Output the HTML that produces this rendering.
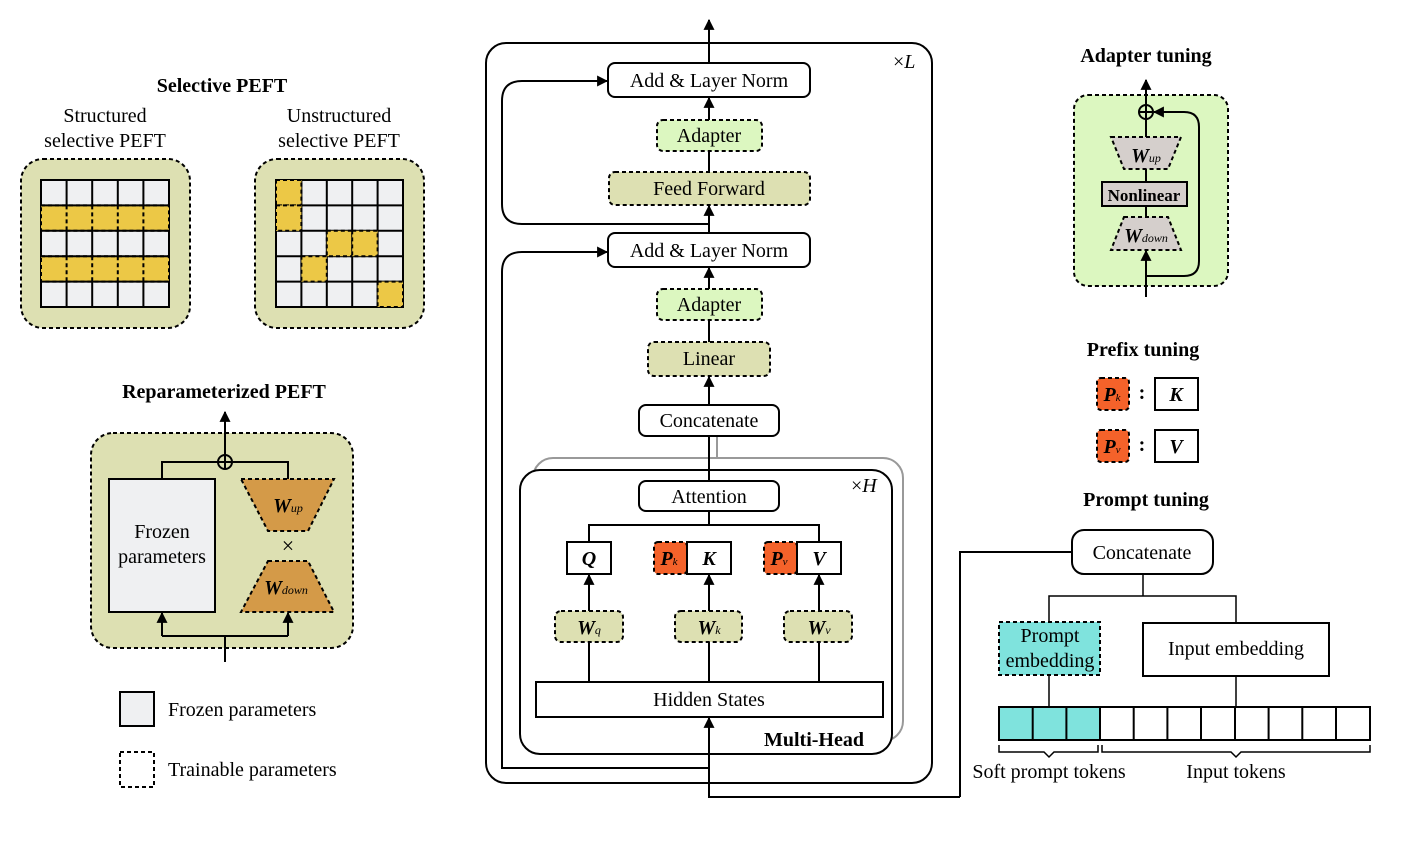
<!DOCTYPE html>
<html><head><meta charset="utf-8"><style>body{margin:0;background:#fff}svg{display:block}</style></head><body>
<svg width="1411" height="851" viewBox="0 0 1411 851" xmlns="http://www.w3.org/2000/svg" font-family="Liberation Serif, serif" font-size="20">
<defs><marker id="a" viewBox="0 0 10 10" refX="9" refY="5" markerWidth="11" markerHeight="11" orient="auto" markerUnits="userSpaceOnUse"><path d="M0,0L10,5L0,10z" fill="#000"/></marker>
<marker id="b" viewBox="0 0 10 10" refX="9" refY="5" markerWidth="11" markerHeight="11" orient="auto" markerUnits="userSpaceOnUse"><path d="M0,0L10,5L0,10z" fill="#000"/></marker></defs>
<g fill="none" stroke="#000" stroke-width="2">
<rect x="21" y="159" width="169" height="169" rx="22" fill="#dde0b2" stroke-dasharray="4,3"/>
<rect x="255" y="159" width="169" height="169" rx="22" fill="#dde0b2" stroke-dasharray="4,3"/>
</g>
<g stroke="#000" stroke-width="2">
<rect x="41" y="180" width="128" height="127" fill="#eff0f2"/>
<rect x="41" y="205.4" width="128" height="25.4" fill="#ecc846" stroke-dasharray="4,3"/>
<rect x="41" y="256.2" width="128" height="25.4" fill="#ecc846" stroke-dasharray="4,3"/>
<path d="M66.6 180V205.4M92.2 180V205.4M117.8 180V205.4M143.4 180V205.4M66.6 230.8V256.2M92.2 230.8V256.2M117.8 230.8V256.2M143.4 230.8V256.2M66.6 281.6V307M92.2 281.6V307M117.8 281.6V307M143.4 281.6V307"/>
<path d="M66.6 205.4V230.8M92.2 205.4V230.8M117.8 205.4V230.8M143.4 205.4V230.8M66.6 256.2V281.6M92.2 256.2V281.6M117.8 256.2V281.6M143.4 256.2V281.6" stroke-dasharray="4,3"/>
<path d="M41 205.4H169M41 230.8H169M41 256.2H169M41 281.6H169"/>
</g>
<g stroke="#000" stroke-width="2">
<rect x="276" y="180" width="127" height="127" fill="#eff0f2"/>
<path d="M301.4 180V307M326.8 180V307M352.2 180V307M377.6 180V307M276 205.4H403M276 230.8H403M276 256.2H403M276 281.6H403"/>
<g fill="#ecc846" stroke-dasharray="4,3">
<rect x="276" y="180" width="25.4" height="25.4"/><rect x="276" y="205.4" width="25.4" height="25.4"/>
<rect x="326.8" y="230.8" width="25.4" height="25.4"/><rect x="352.2" y="230.8" width="25.4" height="25.4"/>
<rect x="301.4" y="256.2" width="25.4" height="25.4"/><rect x="377.6" y="281.6" width="25.4" height="25.4"/>
</g></g>
<g font-weight="bold" font-size="20" text-anchor="middle">
<text x="222" y="92">Selective PEFT</text>
<text x="224" y="398">Reparameterized PEFT</text>
<text x="1146" y="62">Adapter tuning</text>
<text x="1143" y="356">Prefix tuning</text>
<text x="1146" y="506">Prompt tuning</text>
</g>
<g text-anchor="middle">
<text x="105" y="122">Structured</text><text x="105" y="147">selective PEFT</text>
<text x="339" y="122">Unstructured</text><text x="339" y="147">selective PEFT</text>
</g>
<g stroke="#000" stroke-width="2" fill="none">
<rect x="91" y="433" width="262" height="215" rx="22" fill="#dde0b2" stroke-dasharray="4,3"/>
<rect x="109" y="479" width="106" height="133" fill="#eff0f2"/>
<path d="M241 479H334L308 531H268Z" fill="#d49a48" stroke-dasharray="4,3"/>
<path d="M268 561H308L334 612H241Z" fill="#d49a48" stroke-dasharray="4,3"/>
<path d="M162 479V462H218M232 462H288V479"/>
<circle cx="225" cy="462" r="7"/><path d="M218 462H232M225 455V469"/>
<path d="M225 455V412" marker-end="url(#b)"/>
<path d="M225 662V636M162 636H288"/>
<path d="M162 636V613" marker-end="url(#b)"/><path d="M288 636V613" marker-end="url(#b)"/>
<rect x="120" y="692" width="34" height="34" fill="#eff0f2"/>
<rect x="120" y="752" width="34" height="35" stroke-dasharray="4,3"/>
</g>
<text x="162" y="538" text-anchor="middle">Frozen</text><text x="162" y="563" text-anchor="middle">parameters</text>
<text x="288" y="512" text-anchor="middle" font-weight="bold" font-style="italic">W<tspan font-size="12" font-weight="normal">up</tspan></text>
<text x="288" y="553" text-anchor="middle" font-size="22">×</text>
<text x="286" y="594" text-anchor="middle" font-weight="bold" font-style="italic">W<tspan font-size="12" font-weight="normal">down</tspan></text>
<text x="168" y="716">Frozen parameters</text>
<text x="168" y="776">Trainable parameters</text>
<g stroke="#000" stroke-width="2" fill="none">
<rect x="486" y="43" width="446" height="740" rx="20"/>
<rect x="533" y="458" width="370" height="283" rx="20" stroke="#999"/>
<path d="M717 436V458" stroke="#999"/>
<rect x="520" y="470" width="372" height="284" rx="20" fill="#fff"/>
<path d="M709 224H522Q502 224 502 204V101Q502 81 522 81H607" marker-end="url(#a)"/>
<path d="M709 768H502V272Q502 252 522 252H607" marker-end="url(#a)"/>
<path d="M709 63V20" marker-end="url(#b)"/>
<path d="M709 151V98" marker-end="url(#b)"/>
<path d="M709 172V151"/>
<path d="M709 233V206" marker-end="url(#b)"/>
<path d="M709 289V268" marker-end="url(#b)"/>
<path d="M709 342V320"/>
<path d="M709 405V377" marker-end="url(#b)"/>
<path d="M709 436V481M709 511V525M589 542V525H819V542"/>
<rect x="608" y="63" width="202" height="34" rx="7" fill="#fff"/>
<rect x="657" y="120" width="105" height="31" rx="6" fill="#dcf7c0" stroke-dasharray="4,3"/>
<rect x="609" y="172" width="201" height="33" rx="6" fill="#dde0b2" stroke-dasharray="4,3"/>
<rect x="608" y="233" width="202" height="34" rx="7" fill="#fff"/>
<rect x="657" y="289" width="105" height="31" rx="6" fill="#dcf7c0" stroke-dasharray="4,3"/>
<rect x="648" y="342" width="122" height="34" rx="6" fill="#dde0b2" stroke-dasharray="4,3"/>
<rect x="639" y="405" width="140" height="31" rx="7" fill="#fff"/>
<rect x="639" y="481" width="140" height="30" rx="7" fill="#fff"/>
<rect x="567" y="542" width="44" height="32" fill="#fff"/>
<rect x="654" y="542" width="33" height="32" rx="4" fill="#f4622a" stroke-dasharray="4,3"/>
<rect x="687" y="542" width="44" height="32" fill="#fff"/>
<rect x="764" y="542" width="33" height="32" rx="4" fill="#f4622a" stroke-dasharray="4,3"/>
<rect x="797" y="542" width="44" height="32" fill="#fff"/>
<path d="M589 611V575" marker-end="url(#b)"/><path d="M709 611V575" marker-end="url(#b)"/><path d="M819 611V575" marker-end="url(#b)"/>
<path d="M589 682V642M709 682V642M819 682V642"/>
<rect x="555" y="611" width="68" height="31" rx="6" fill="#dde0b2" stroke-dasharray="4,3"/>
<rect x="675" y="611" width="67" height="31" rx="6" fill="#dde0b2" stroke-dasharray="4,3"/>
<rect x="784" y="611" width="68" height="31" rx="6" fill="#dde0b2" stroke-dasharray="4,3"/>
<rect x="536" y="682" width="347" height="35" fill="#fff"/>
<path d="M960 797H709V718" marker-end="url(#b)"/>
<path d="M960 797V552H1072"/>
</g>
<g text-anchor="middle">
<text x="709" y="87">Add &amp; Layer Norm</text>
<text x="709" y="142">Adapter</text>
<text x="709" y="195">Feed Forward</text>
<text x="709" y="257">Add &amp; Layer Norm</text>
<text x="709" y="311">Adapter</text>
<text x="709" y="365">Linear</text>
<text x="709" y="427">Concatenate</text>
<text x="709" y="503">Attention</text>
<text x="709" y="706">Hidden States</text>
<g font-weight="bold" font-style="italic">
<text x="589" y="565">Q</text><text x="709" y="565">K</text><text x="819" y="565">V</text>
<text x="669" y="565">P<tspan font-size="11" font-weight="normal">k</tspan></text>
<text x="779" y="565">P<tspan font-size="11" font-weight="normal">v</tspan></text>
<text x="589" y="634">W<tspan font-size="12" font-weight="normal">q</tspan></text>
<text x="709" y="634">W<tspan font-size="12" font-weight="normal">k</tspan></text>
<text x="819" y="634">W<tspan font-size="12" font-weight="normal">v</tspan></text>
</g>
</g>
<text x="893" y="68">×<tspan font-style="italic">L</tspan></text>
<text x="851" y="492">×<tspan font-style="italic">H</tspan></text>
<text x="864" y="746" text-anchor="end" font-weight="bold">Multi-Head</text>
<g stroke="#000" stroke-width="2" fill="none">
<rect x="1074" y="95" width="154" height="191" rx="14" fill="#dcf7c0" stroke-dasharray="4,3"/>
<path d="M1111 137H1181L1168 169H1124Z" fill="#d5cfcc" stroke-dasharray="4,3"/>
<path d="M1124 217H1168L1181 250H1111Z" fill="#d5cfcc" stroke-dasharray="4,3"/>
<rect x="1102" y="182" width="85" height="24" fill="#d5cfcc"/>
<path d="M1146 119V137M1146 169V182M1146 206V217"/>
<circle cx="1146" cy="112" r="7"/><path d="M1139 112H1153M1146 105V119"/>
<path d="M1146 105V80" marker-end="url(#b)"/>
<path d="M1146 297V251" marker-end="url(#b)"/>
<path d="M1146 276H1184Q1199 276 1199 261V127Q1199 112 1184 112H1154" marker-end="url(#b)"/>
</g>
<text x="1144" y="201" text-anchor="middle" font-weight="bold" font-size="17">Nonlinear</text>
<text x="1146" y="162" text-anchor="middle" font-weight="bold" font-style="italic">W<tspan font-size="12" font-weight="normal">up</tspan></text>
<text x="1146" y="242" text-anchor="middle" font-weight="bold" font-style="italic">W<tspan font-size="12" font-weight="normal">down</tspan></text>
<g stroke="#000" stroke-width="2">
<rect x="1097" y="378" width="32" height="32" rx="4" fill="#f4622a" stroke-dasharray="4,3"/>
<rect x="1155" y="378" width="43" height="32" fill="#fff"/>
<rect x="1097" y="430" width="32" height="32" rx="4" fill="#f4622a" stroke-dasharray="4,3"/>
<rect x="1155" y="430" width="43" height="32" fill="#fff"/>
</g>
<g text-anchor="middle" font-weight="bold">
<text x="1112" y="401" font-style="italic">P<tspan font-size="11" font-weight="normal">k</tspan></text>
<text x="1142" y="399">:</text>
<text x="1176" y="401" font-style="italic">K</text>
<text x="1112" y="453" font-style="italic">P<tspan font-size="11" font-weight="normal">v</tspan></text>
<text x="1142" y="451">:</text>
<text x="1176" y="453" font-style="italic">V</text>
</g>
<g stroke="#000" stroke-width="2" fill="none">
<rect x="1072" y="530" width="141" height="44" rx="12" fill="#fff"/>
<path d="M1143 574V596M1049 622V596H1236V623" stroke-width="1.5"/>
<path d="M1049 675V707M1236 676V707" stroke-width="1.5"/>
<rect x="999" y="622" width="101" height="53" fill="#7fe3dd" stroke-dasharray="4,3"/>
<rect x="1143" y="623" width="186" height="53" fill="#fff"/>
<rect x="999" y="707" width="101" height="33" fill="#7fe3dd"/>
<rect x="1100" y="707" width="270" height="33" fill="#fff"/>
<path d="M1032.7 707V740M1066.4 707V740M1133.7 707V740M1167.4 707V740M1201 707V740M1235 707V740M1268.6 707V740M1302.3 707V740M1336 707V740"/>
<path d="M999 745V752H1044L1049 757L1054 752H1098V745M1102 745V752H1231L1236 757L1241 752H1370V745" stroke-width="1.5"/>
</g>
<g text-anchor="middle">
<text x="1142" y="559">Concatenate</text>
<text x="1050" y="642">Prompt</text><text x="1050" y="667">embedding</text>
<text x="1236" y="655">Input embedding</text>
<text x="1049" y="778">Soft prompt tokens</text>
<text x="1236" y="778">Input tokens</text>
</g>
</svg>
</body></html>
